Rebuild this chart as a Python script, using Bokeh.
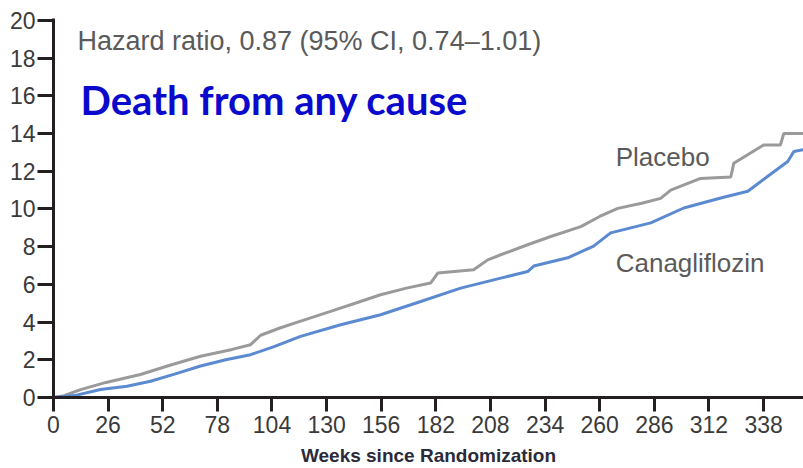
from bokeh.plotting import figure
from bokeh.models import Range1d, FixedTicker, Label
from bokeh.embed import file_html
from bokeh.resources import INLINE

# Kaplan-Meier style cumulative incidence (%)
weeks_placebo = [0, 5, 12.9, 25, 41.4, 55, 70, 85, 93.8, 98.6, 108.1, 116.2, 131.9, 145, 155.7,
                 168, 179.5, 182.9, 200, 206.7, 212.9, 225.7, 236.7, 251, 260, 268.6, 280, 289,
                 293.8, 308, 322.4, 323.8, 338, 346, 347.6, 357]
risk_placebo = [0, 0.1, 0.42, 0.8, 1.22, 1.7, 2.19, 2.55, 2.8, 3.3, 3.7, 4.0, 4.57, 5.05, 5.45,
                5.8, 6.07, 6.6, 6.77, 7.3, 7.57, 8.1, 8.54, 9.06, 9.6, 10.03, 10.3, 10.56,
                11.0, 11.62, 11.7, 12.42, 13.39, 13.39, 14.0, 14.0]

weeks_cana = [0, 10, 22.4, 35, 46.2, 58, 70, 82, 93.8, 105, 117.6, 136.7, 155.7, 174.8, 193.8,
              212.9, 225.7, 228.6, 244.8, 257.1, 265.2, 284.3, 300, 317.6, 330.5, 340, 349.5,
              352.4, 357]
risk_cana = [0, 0.1, 0.42, 0.6, 0.86, 1.25, 1.67, 2.0, 2.27, 2.7, 3.24, 3.86, 4.39, 5.09, 5.8,
             6.33, 6.68, 6.97, 7.41, 8.03, 8.73, 9.26, 10.05, 10.58, 10.94, 11.73, 12.52,
             13.05, 13.14]

x_ticks = [0, 26, 52, 78, 104, 130, 156, 182, 208, 234, 260, 286, 312, 338]
y_ticks = [0, 2, 4, 6, 8, 10, 12, 14, 16, 18, 20]

p = figure(width=803, height=468, output_backend="svg", toolbar_location=None,
           x_range=Range1d(0, 357), y_range=Range1d(0, 20.1),
           min_border_left=53, min_border_right=0, min_border_top=18, min_border_bottom=70)

p.outline_line_color = None
p.xgrid.visible = False
p.ygrid.visible = False
p.background_fill_color = "white"

axis_color = "#231f20"
tick_font = "Liberation Sans"

p.xaxis.ticker = FixedTicker(ticks=x_ticks)
p.yaxis.ticker = FixedTicker(ticks=y_ticks)
for ax in (p.xaxis, p.yaxis):
    ax.axis_line_color = axis_color
    ax.axis_line_width = 3
    ax.major_tick_line_color = axis_color
    ax.major_tick_line_width = 3
    ax.minor_tick_line_color = None
    ax.major_tick_in = 0
    ax.major_label_text_font = tick_font
    ax.major_label_text_font_size = "23px"
    ax.major_label_text_color = "#3a3a3a"

p.yaxis.major_tick_out = 16
p.yaxis.major_label_standoff = 2
p.xaxis.major_tick_out = 14
p.xaxis.major_label_standoff = 4

p.xaxis.axis_label = "Weeks since Randomization"
p.xaxis.axis_label_text_font = "Liberation Sans"
p.xaxis.axis_label_text_font_style = "bold"
p.xaxis.axis_label_text_font_size = "19px"
p.xaxis.axis_label_text_color = "#2a2a3a"
p.xaxis.axis_label_standoff = 9

p.line(weeks_placebo, risk_placebo, line_color="#9a9a9a", line_width=3)
p.line(weeks_cana, risk_cana, line_color="#5b8ad0", line_width=3)

p.add_layout(Label(x=11.4, y=18.9, text="Hazard ratio, 0.87 (95% CI, 0.74\u20131.01)",
                   text_font="Liberation Sans", text_font_size="27px",
                   text_color="#5a5a5a", text_baseline="middle"))
p.add_layout(Label(x=12.9, y=15.77, text="Death from any cause",
                   text_font="Lato", text_font_style="bold", text_font_size="40px",
                   text_color="#0a0acd", text_baseline="middle"))
p.add_layout(Label(x=267.6, y=12.75, text="Placebo",
                   text_font="Liberation Sans", text_font_size="26px",
                   text_color="#5a5a5a", text_baseline="middle"))
p.add_layout(Label(x=267.6, y=7.14, text="Canagliflozin",
                   text_font="Liberation Sans", text_font_size="26px",
                   text_color="#5a5a5a", text_baseline="middle"))

open("out.html", "w").write(file_html(p, INLINE))
